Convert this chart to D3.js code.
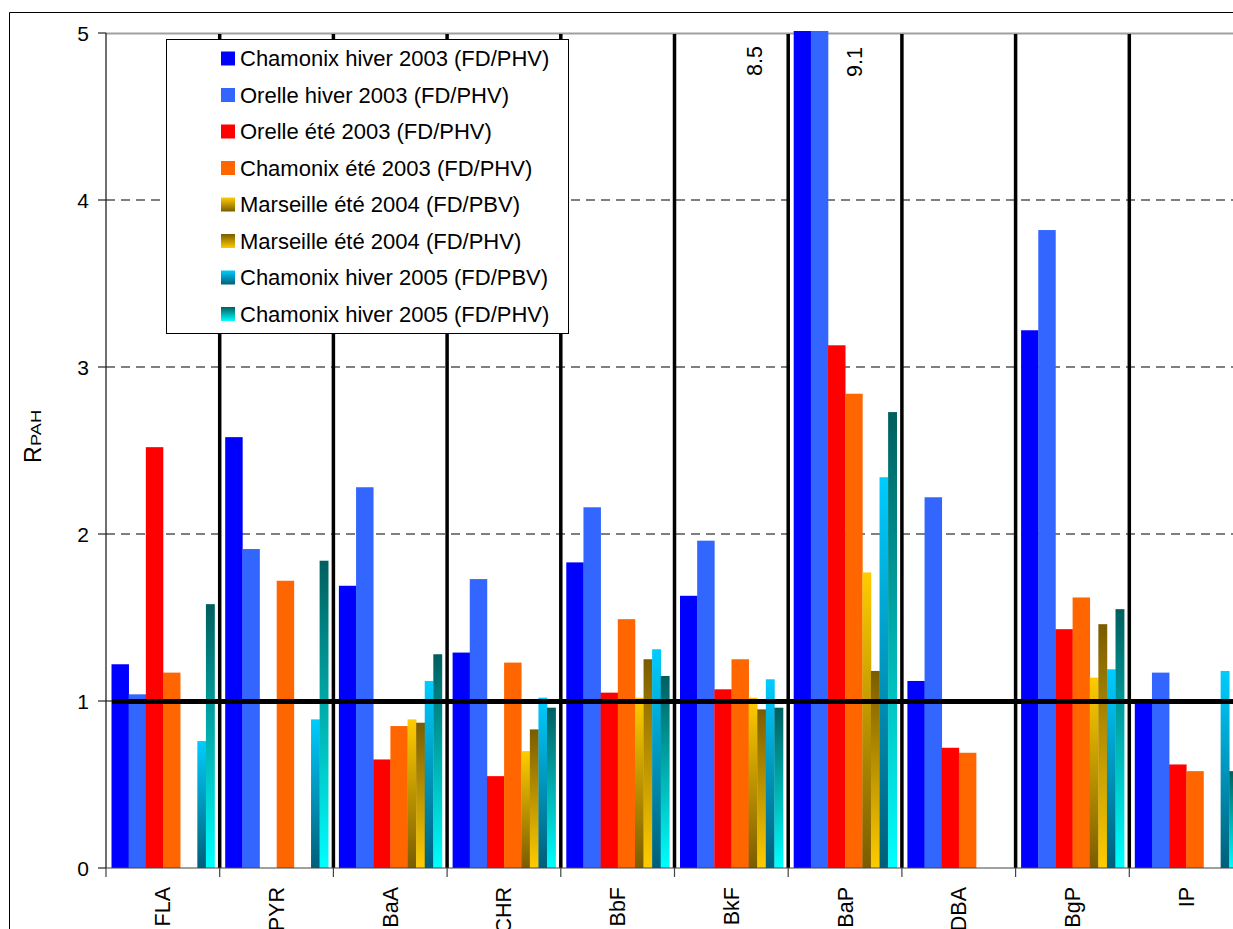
<!DOCTYPE html>
<html><head><meta charset="utf-8">
<script src="https://cdn.jsdelivr.net/npm/d3@7"></script>
<style>
html,body{margin:0;padding:0;background:#fff;}
svg{display:block;font-family:"Liberation Sans",Arial,sans-serif;}
</style></head>
<body>
<svg id="chart" width="1233" height="929"></svg>
<script>
// ---- data ----
const categories = ["FLA","PYR","BaA","CHR","BbF","BkF","BaP","DBA","BgP","IP"];
const seriesNames = [
  "Chamonix hiver 2003 (FD/PHV)",
  "Orelle hiver 2003 (FD/PHV)",
  "Orelle été 2003 (FD/PHV)",
  "Chamonix été 2003 (FD/PHV)",
  "Marseille été 2004 (FD/PBV)",
  "Marseille été 2004 (FD/PHV)",
  "Chamonix hiver 2005 (FD/PBV)",
  "Chamonix hiver 2005 (FD/PHV)"
];
const chamonixHiver2003 = [1.22, 2.58, 1.69, 1.29, 1.83, 1.63, 8.5, 1.12, 3.22, 1.01];
const orelleHiver2003   = [1.04, 1.91, 2.28, 1.73, 2.16, 1.96, 9.1, 2.22, 3.82, 1.17];
const orelleEte2003     = [2.52, null, 0.65, 0.55, 1.05, 1.07, 3.13, 0.72, 1.43, 0.62];
const chamonixEte2003   = [1.17, 1.72, 0.85, 1.23, 1.49, 1.25, 2.84, 0.69, 1.62, 0.58];
const marseillePBV      = [null, null, 0.89, 0.70, 1.02, 1.02, 1.77, null, 1.14, null];
const marseillePHV      = [null, null, 0.87, 0.83, 1.25, 0.95, 1.18, null, 1.46, null];
const chamonix2005PBV   = [0.76, 0.89, 1.12, 1.02, 1.31, 1.13, 2.34, null, 1.19, 1.18];
const chamonix2005PHV   = [1.58, 1.84, 1.28, 0.96, 1.15, 0.96, 2.73, null, 1.55, 0.58];
const seriesValues = [chamonixHiver2003, orelleHiver2003, orelleEte2003, chamonixEte2003,
                      marseillePBV, marseillePHV, chamonix2005PBV, chamonix2005PHV];
const yTicks = [0, 1, 2, 3, 4, 5];
const referenceValue = 1;
const clippedLabels = ["8.5", "9.1"];

// ---- styles ----
const fills = ["#0000ff", "#3366ff", "#ff0000", "#ff6600",
               "url(#g5)", "url(#g6)", "url(#g7)", "url(#g8)"];
const gradients = [
  {id:"g5", top:"#ffcc00", bottom:"#7a5c00"},
  {id:"g6", top:"#7a5c00", bottom:"#ffcc00"},
  {id:"g7", top:"#00ccff", bottom:"#005f7a"},
  {id:"g8", top:"#005e5e", bottom:"#00ffff"}
];
const barWeights = [2,2,2,2,1,1,1,1];

const svg = d3.select("#chart");
const defs = svg.append("defs");
gradients.forEach(g => {
  const lg = defs.append("linearGradient").attr("id", g.id)
    .attr("x1", 0).attr("y1", 0).attr("x2", 0).attr("y2", 1);
  lg.append("stop").attr("offset", "0%").attr("stop-color", g.top);
  lg.append("stop").attr("offset", "100%").attr("stop-color", g.bottom);
});

// ---- scales ----
const bandW = 113.7;
const x = d3.scaleBand().domain(categories).range([106, 106 + bandW * categories.length])
  .paddingInner(0).paddingOuter(0);
const y = d3.scaleLinear().domain([0, 5]).range([868, 33]);
const cum = [0];
barWeights.forEach(w => cum.push(cum[cum.length - 1] + w));
const inner = d3.scaleLinear().domain([0, cum[cum.length - 1]]).range([5.5, 108.5]);

// outer frame
svg.append("line").attr("x1", 9.5).attr("x2", 9.5).attr("y1", 12.5).attr("y2", 929)
  .attr("stroke", "#000").attr("stroke-width", 1);
svg.append("line").attr("x1", 9.5).attr("x2", 1233).attr("y1", 12.5).attr("y2", 12.5)
  .attr("stroke", "#000").attr("stroke-width", 1);

// gridlines
svg.append("g").selectAll("line").data(yTicks.filter(t => t > 0 && t < 5)).join("line")
  .attr("x1", 106).attr("x2", 1233)
  .attr("y1", d => y(d)).attr("y2", d => y(d))
  .attr("stroke", "#555").attr("stroke-width", 1.3).attr("stroke-dasharray", "9,6");
// top border
svg.append("line").attr("x1", 106).attr("x2", 1233).attr("y1", y(5) + 0.5).attr("y2", y(5) + 0.5)
  .attr("stroke", "#a0a0a0").attr("stroke-width", 2);

// bars
const barData = [];
seriesValues.forEach((vals, s) => {
  vals.forEach((v, i) => {
    if (v == null) return;
    barData.push({s, cat: categories[i], v});
  });
});
svg.append("g").selectAll("rect").data(barData).join("rect")
  .attr("x", d => x(d.cat) + inner(cum[d.s]))
  .attr("width", d => inner(cum[d.s + 1]) - inner(cum[d.s]) + 0.3)
  .attr("y", d => d.v > 5 ? y(5) - 2 : y(d.v))
  .attr("height", d => y(0) - (d.v > 5 ? y(5) - 2 : y(d.v)))
  .attr("fill", d => fills[d.s]);

// category separators
svg.append("g").selectAll("line").data(categories.slice(1)).join("line")
  .attr("x1", d => x(d)).attr("x2", d => x(d))
  .attr("y1", y(5) + 1).attr("y2", y(0))
  .attr("stroke", "#000").attr("stroke-width", 3.5);

// x axis baseline + ticks
svg.append("line").attr("x1", 106).attr("x2", 1233).attr("y1", y(0)).attr("y2", y(0))
  .attr("stroke", "#444").attr("stroke-width", 1.2);
svg.append("g").selectAll("line").data(categories).join("line")
  .attr("x1", d => x(d)).attr("x2", d => x(d))
  .attr("y1", y(0)).attr("y2", y(0) + 9)
  .attr("stroke", "#444").attr("stroke-width", 1.2);

// y axis
svg.append("line").attr("x1", 106).attr("x2", 106).attr("y1", y(5)).attr("y2", y(0))
  .attr("stroke", "#222").attr("stroke-width", 1.3);
svg.append("g").selectAll("line").data(yTicks).join("line")
  .attr("x1", 98).attr("x2", 106).attr("y1", d => y(d)).attr("y2", d => y(d))
  .attr("stroke", "#222").attr("stroke-width", 1.2);
svg.append("g").selectAll("text").data(yTicks).join("text")
  .attr("x", 89).attr("y", d => y(d)).attr("dy", "0.36em")
  .attr("text-anchor", "end").attr("font-size", 21).attr("fill", "#000")
  .text(d => d);

// reference line at 1
svg.append("line").attr("x1", 112).attr("x2", 1233)
  .attr("y1", y(referenceValue) + 0.5).attr("y2", y(referenceValue) + 0.5)
  .attr("stroke", "#000").attr("stroke-width", 5);

// category labels
svg.append("g").selectAll("text").data(categories).join("text")
  .attr("transform", d => `translate(${x(d) + x.bandwidth() / 2 + 7.5},887) rotate(-90)`)
  .attr("text-anchor", "end").attr("font-size", 21.5).attr("fill", "#000")
  .text(d => d);

// clipped value labels
const bapX = x("BaP");
svg.append("text")
  .attr("transform", `translate(${bapX + inner(cum[0]) - 32},76) rotate(-90)`)
  .attr("font-size", 21.5).attr("fill", "#000").text(clippedLabels[0]);
svg.append("text")
  .attr("transform", `translate(${bapX + inner(cum[2]) + 33.5},77) rotate(-90)`)
  .attr("font-size", 21.5).attr("fill", "#000").text(clippedLabels[1]);

// y title
svg.append("text").attr("transform", "translate(41,463) rotate(-90)")
  .attr("font-size", 23).attr("fill", "#000").text("R");
svg.append("text").attr("transform", "translate(41,446) rotate(-90)")
  .attr("font-size", 14).attr("fill", "#000")
  .attr("textLength", 36).attr("lengthAdjust", "spacingAndGlyphs").text("PAH");

// legend
const lg = svg.append("g");
lg.append("rect").attr("x", 166.5).attr("y", 39.5).attr("width", 402).attr("height", 294)
  .attr("fill", "#fff").attr("stroke", "#000").attr("stroke-width", 1);
const items = lg.selectAll("g.item").data(seriesNames).join("g").attr("class", "item")
  .attr("transform", (d, i) => `translate(0,${66 + i * 36.5})`);
items.append("rect").attr("x", 221).attr("y", -14.5).attr("width", 14).attr("height", 14)
  .attr("fill", (d, i) => fills[i]);
items.append("text").attr("x", 240).attr("y", 0).attr("font-size", 22).attr("fill", "#000")
  .text(d => d);
</script>
</body></html>
